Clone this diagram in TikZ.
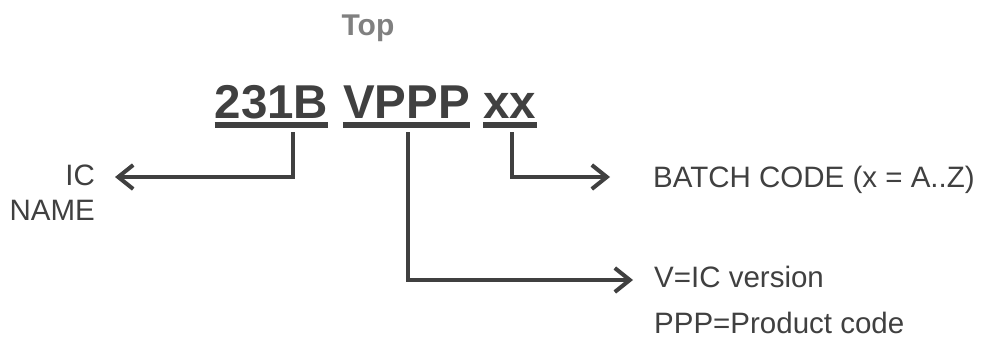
\documentclass[tikz,border=0pt]{standalone}
\usepackage{fontspec}
\setmainfont{Liberation Sans}
\usetikzlibrary{arrows.meta}
\definecolor{ink}{HTML}{404040}
\definecolor{toptxt}{HTML}{808080}
\begin{document}
\begin{tikzpicture}[x=1pt,y=-1pt,
  lbl/.style={inner sep=0pt, text=ink, font=\fontsize{29.5}{35}\selectfont},
  code/.style={inner sep=0pt, text=ink, font=\fontsize{47.5}{56}\selectfont\bfseries},
  ul/.style={line width=6pt, draw=ink},
  conn/.style={draw=ink, line width=4pt, -{Straight Barb[length=15pt,width=24pt]}}]
\useasboundingbox (0,0) rectangle (985,343);
\node[inner sep=0pt, text=toptxt, font=\fontsize{30}{36}\selectfont\bfseries, anchor=base] (top) at (368,35) {Top};
\node[code, anchor=base] (n1) at (271.5,118) {231B};
\node[code, anchor=base] (n2) at (406.5,118) {VPPP};
\node[code, anchor=base] (n3) at (510,118) {xx};
\draw[ul] ([yshift=-7pt]n1.base west) -- ([yshift=-7pt]n1.base east);
\draw[ul] ([yshift=-7pt]n2.base west) -- ([yshift=-7pt]n2.base east);
\draw[ul] ([yshift=-7pt]n3.base west) -- ([yshift=-7pt]n3.base east);
\node[lbl, anchor=base east] (ic) at (95,185) {IC};
\node[lbl, anchor=base east] (name) at (95,220) {NAME};
\node[lbl, anchor=base west] (batch) at (653,187) {BATCH CODE (x = A..Z)};
\node[lbl, anchor=base west] (ver) at (654,287) {V=IC version};
\node[lbl, anchor=base west] (ppp) at (654,333) {PPP=Product code};
\coordinate (s1) at ([xshift=21.5pt,yshift=-14pt]n1.base);
\coordinate (s2) at ([xshift=1.5pt,yshift=-14pt]n2.base);
\coordinate (s3) at ([xshift=2pt,yshift=-14pt]n3.base);
\coordinate (t1) at ([xshift=20pt,yshift=8pt]ic.base east);
\coordinate (t2) at ([xshift=-21pt,yshift=7pt]ver.base west);
\coordinate (t3) at ([xshift=-43pt,yshift=10pt]batch.base west);
\draw[conn] (s1) |- (t1);
\draw[conn] (s2) |- (t2);
\draw[conn] (s3) |- (t3);
\end{tikzpicture}
\end{document}
